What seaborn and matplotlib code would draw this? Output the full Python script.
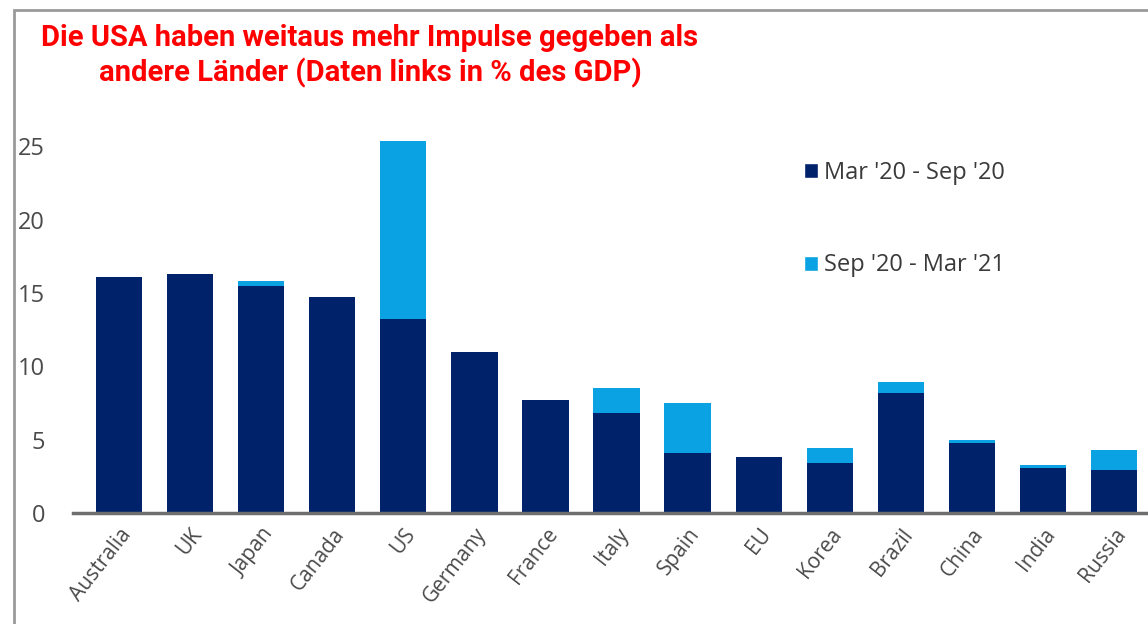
import matplotlib
matplotlib.use("Agg")
import matplotlib.pyplot as plt
import seaborn as sns
import pandas as pd
from matplotlib.patches import Rectangle, Patch

# Data (in % of GDP)
countries = ['Australia', 'UK', 'Japan', 'Canada', 'US', 'Germany', 'France', 'Italy',
             'Spain', 'EU', 'Korea', 'Brazil', 'China', 'India', 'Russia']
mar_sep_20 = [16.1, 16.3, 15.5, 14.7, 13.2, 10.95, 7.7, 6.8, 4.1, 3.8, 3.4, 8.2, 4.8, 3.05, 2.9]
sep_mar_21 = [0.0, 0.0, 0.3, 0.0, 12.2, 0.0, 0.0, 1.7, 3.4, 0.0, 1.0, 0.7, 0.2, 0.25, 1.4]

dark = '#00226b'
light = '#0aa2e3'

df = pd.DataFrame({'country': countries, 'first': mar_sep_20, 'second': sep_mar_21})
df['total'] = df['first'] + df['second']

sns.set_style("white")
plt.rcParams['font.family'] = ['Open Sans', 'DejaVu Sans']

fig = plt.figure(figsize=(11.48, 6.24), dpi=100)
ax = fig.add_axes([73 / 1148, 1 - 513 / 624, 1 - 73 / 1148, (513 - 120) / 624])

# Stacked bars: total in light blue, first period in dark blue on top
sns.barplot(data=df, x='country', y='total', color=light, width=0.65, saturation=1,
            linewidth=0, ax=ax)
sns.barplot(data=df, x='country', y='first', color=dark, width=0.65, saturation=1,
            linewidth=0, ax=ax)

ax.set_xlim(-0.65, 14.48)
ax.set_ylim(0, 26.8)
ax.set_yticks([0, 5, 10, 15, 20, 25])
ax.set_xlabel('')
ax.set_ylabel('')

for s in ['top', 'right', 'left']:
    ax.spines[s].set_visible(False)
ax.spines['bottom'].set_color('#6e6e6e')
ax.spines['bottom'].set_linewidth(2.5)

ax.tick_params(axis='y', length=0, pad=20, labelsize=17, labelcolor='#4a4a4a')
ax.tick_params(axis='x', length=0, pad=8, labelsize=15, labelcolor='#4a4a4a')
plt.setp(ax.get_xticklabels(), rotation=52, ha='right', rotation_mode='anchor')

# Legend
handles = [Patch(facecolor=dark, label="Mar '20 - Sep '20"),
           Patch(facecolor=light, label="Sep '20 - Mar '21")]
ax.legend(handles=handles, loc='upper left', bbox_to_anchor=(0.66, 0.95), frameon=False,
          fontsize=17, labelcolor='#3a3a3a', handlelength=0.6, handleheight=0.6,
          handletextpad=0.25, labelspacing=2.9)

# Title
title_font = ['Roboto', 'DejaVu Sans']
fig.text(370 / 1148, 1 - 38 / 624, 'Die USA haben weitaus mehr Impulse gegeben als',
         color='#ff0000', fontsize=21, fontweight='bold', ha='center', va='center',
         family=title_font)
fig.text(370 / 1148, 1 - 73 / 624, 'andere Länder (Daten links in % des GDP)',
         color='#ff0000', fontsize=21, fontweight='bold', ha='center', va='center',
         family=title_font)

# Frame of the screenshot
fig.patches.append(Rectangle((14 / 1148, -0.1), 1.2, 1 - 10 / 624 + 0.1,
                             transform=fig.transFigure, fill=False,
                             edgecolor='#9a9a9a', linewidth=2))

fig.savefig('out.png', dpi=100)
